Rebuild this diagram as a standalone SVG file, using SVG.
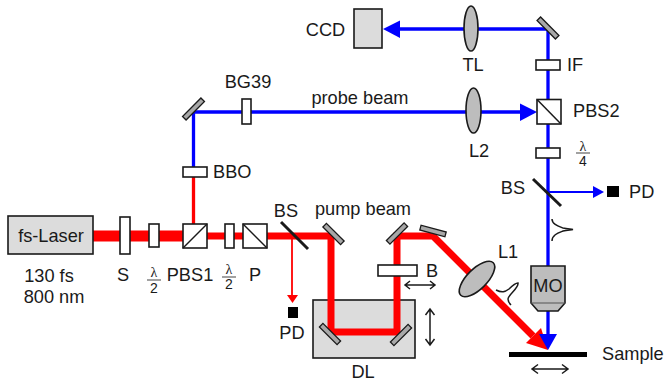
<svg xmlns="http://www.w3.org/2000/svg" width="665" height="384" viewBox="0 0 665 384">
<style>
text{font-family:"Liberation Sans",Arial,sans-serif;font-size:18.2px;fill:#1a1a1a}
.m{text-anchor:middle}
.f{font-size:14px}
.s{font-family:"Liberation Serif",serif;font-size:14px}
.o{fill:#fff;stroke:#1a1a1a;stroke-width:1.6}
.g{fill:#dcdcdc;stroke:#1a1a1a;stroke-width:1.6}
.l{fill:#bdbdbd;stroke:#1a1a1a;stroke-width:1.6}
.mi{fill:#a8a8a8;stroke:#1a1a1a;stroke-width:1.3}
.d{fill:none;stroke:#1a1a1a;stroke-width:1.5}
.dd{fill:none;stroke:#555;stroke-width:1.1}
.r{fill:none;stroke:#f00}
.b{fill:none;stroke:#00f}
</style>
<defs>
<path id="dbl" d="M-18 0H18M-12-4.500L-18 0L-12 4.500M12-4.500L18 0L12 4.500" class="d"/>
<path id="dbs" d="M-15 0H15M-10-4L-15 0L-10 4M10-4L15 0L10 4" class="d"/>
</defs>
<g id="dl"><rect class="g" x="313" y="300" width="102" height="58"/><text class="m" x="363" y="378">DL</text><use href="#dbl" transform="translate(430,327) rotate(90)"/></g>
<g id="connectors">
<path class="r" stroke-width="11" d="M93 236H183"/>
<path class="r" stroke-width="7" d="M207 236H331V332H397V236H433L533 336"/>
<path fill="#f00" d="M526 343L541 328L548 350Z"/>
<path class="r" stroke-width="3.300" d="M193.500 224V176"/>
<path class="r" stroke-width="1.800" d="M292 236V300"/>
<path fill="#f00" d="M287 295H298L292.500 303Z"/>
<path class="b" stroke-width="3.300" d="M193.500 170V112H525"/>
<path fill="#00f" d="M520 103.500V121L537 112Z"/>
<path class="b" stroke-width="3.300" d="M548 100V29H395"/>
<path fill="#00f" d="M400 20.500V38L383 29Z"/>
<path class="b" stroke-width="3.300" d="M548 124V340"/>
<path fill="#00f" d="M539 334H557L548 350Z"/>
<path class="b" stroke-width="1.800" d="M548 192H595"/>
<path fill="#00f" d="M593 186V198L604 192Z"/>
</g>
<g id="fs-laser"><rect class="g" x="8" y="216" width="85" height="38"/><text class="m" x="51" y="242">fs-Laser</text><text class="m" x="49" y="282">130 fs</text><text class="m" x="54" y="303">800 nm</text></g>
<g id="shutter"><rect class="o" x="120" y="217" width="10" height="37"/><text class="m" x="123" y="281">S</text></g>
<g id="hwp1"><rect class="o" x="149" y="224" width="10" height="23"/><text class="m s" x="154" y="277">λ</text><path class="dd" d="M147 280H161"/><text class="m f" x="154" y="293">2</text></g>
<g id="pbs1"><rect class="o" x="183" y="224" width="24" height="24"/><path class="d" d="M183 248L207 224"/><text class="m" x="190" y="281">PBS1</text></g>
<g id="hwp2"><rect class="o" x="225" y="224" width="9" height="24"/><text class="m s" x="229" y="274">λ</text><path class="dd" d="M222 277H236"/><text class="m f" x="229" y="289">2</text></g>
<g id="polarizer"><rect class="o" x="243" y="224" width="24" height="24"/><path class="d" d="M243 224L267 248"/><text class="m" x="255" y="281">P</text></g>
<g id="bs1"><path stroke="#1a1a1a" stroke-width="3" d="M281 222L308 249"/><text class="m" x="286" y="217">BS</text></g>
<g id="pd1"><rect fill="#000" x="288" y="307" width="10" height="11"/><text class="m" x="292" y="339">PD</text></g>
<g id="bbo"><rect class="o" x="183" y="167" width="24" height="10"/><text x="213" y="178">BBO</text></g>
<g id="mirror-probe"><rect class="mi" x="-13" y="-2.500" width="26" height="5" transform="translate(193.500,109) rotate(-45)"/></g>
<g id="bg39"><rect class="o" x="242" y="99" width="9" height="25"/><text class="m" x="248" y="88">BG39</text></g>
<text class="m" x="360" y="104">probe beam</text>
<g id="l2"><ellipse class="l" cx="473.500" cy="110.500" rx="7.500" ry="22.500"/><text class="m" x="479" y="157">L2</text></g>
<g id="pbs2"><rect class="o" x="537" y="99.500" width="24" height="24.500"/><path class="d" d="M537 99.500L561 124"/><text x="573" y="117">PBS2</text></g>
<g id="if"><rect class="o" x="536" y="60" width="24" height="10"/><text x="567" y="71">IF</text></g>
<g id="mirror-top"><rect class="mi" x="-13" y="-2.500" width="26" height="5" transform="translate(548,28) rotate(45)"/></g>
<g id="tl"><ellipse class="l" cx="471" cy="28.500" rx="7" ry="22.500"/><text class="m" x="473" y="71">TL</text></g>
<g id="ccd"><rect class="g" x="354" y="9" width="28" height="39"/><text class="m" x="325.500" y="36">CCD</text></g>
<g id="qwp"><rect class="o" x="536" y="148" width="24" height="10"/><text class="m s" x="583" y="151">λ</text><path class="dd" d="M576 153H590"/><text class="m f" x="583" y="166">4</text></g>
<g id="bs2"><path stroke="#1a1a1a" stroke-width="3" d="M533 179L561 206"/><text class="m" x="513" y="194">BS</text></g>
<g id="pd2"><rect fill="#000" x="607" y="186" width="12" height="11"/><text x="629" y="198">PD</text></g>
<path id="pulse-blue" class="d" d="M552 219C552 224 558 226 563 228C567 229 570 229 573 229.500C570 230 567 230 563 231C558 233 552 235 552 241"/>
<g id="mo"><path class="l" d="M531 266H565V303L558 311H538L531 303Z"/><path class="dd" d="M531 303H565"/><text class="m" x="548" y="292">MO</text></g>
<g id="sample"><rect fill="#000" x="509" y="352" width="78" height="5"/><text x="602" y="360">Sample</text><use href="#dbl" x="550" y="369"/></g>
<g id="m1"><rect class="mi" x="-12.500" y="-2.500" width="25" height="5" transform="translate(333.500,234) rotate(45)"/></g>
<g id="m2"><rect class="mi" x="-12.500" y="-2.500" width="25" height="5" transform="translate(397,233.500) rotate(-45)"/></g>
<g id="m3"><rect class="mi" x="-13" y="-2.500" width="26" height="5" transform="translate(433,231) rotate(15)"/></g>
<text class="m" x="363" y="215">pump beam</text>
<g id="b"><rect class="o" x="378" y="265" width="39" height="11"/><text x="426" y="277">B</text><use href="#dbs" x="420" y="285"/></g>
<g id="m4"><rect class="mi" x="-12.500" y="-2.500" width="25" height="5" transform="translate(330,334) rotate(45)"/></g>
<g id="m5"><rect class="mi" x="-12.500" y="-2.500" width="25" height="5" transform="translate(401,335) rotate(-45)"/></g>
<g id="l1"><ellipse class="l" cx="477" cy="279" rx="10" ry="23" transform="rotate(45 477 279)"/><text class="m" x="508" y="258">L1</text></g>
<path id="pulse-red" class="d" d="M496 290C502 293 505 292 509 289C512 286 515 283 518 283C519 288 508 295 508 299C508 302 510 304 511 305"/>
</svg>
